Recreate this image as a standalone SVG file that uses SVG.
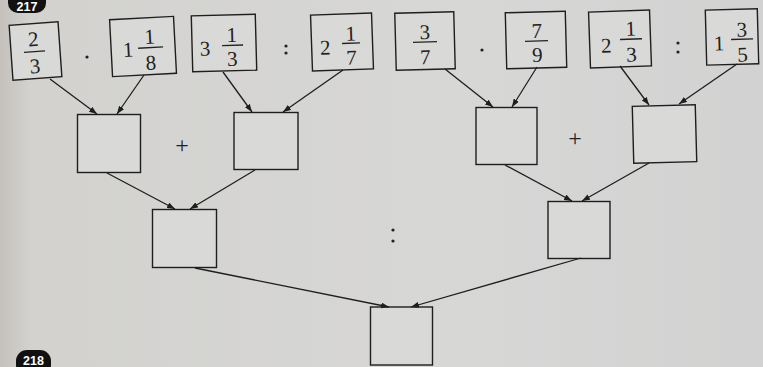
<svg xmlns="http://www.w3.org/2000/svg" width="763" height="367" viewBox="0 0 763 367">
<defs>
<linearGradient id="bg" x1="0" y1="0" x2="1" y2="0">
<stop offset="0" stop-color="#c4c1bc"/>
<stop offset="0.04" stop-color="#d3d2cf"/>
<stop offset="0.6" stop-color="#d7d7d6"/>
<stop offset="1" stop-color="#d2d2d2"/>
</linearGradient>
<marker id="ah" viewBox="0 0 8 6" refX="8" refY="3" markerWidth="8" markerHeight="6" markerUnits="userSpaceOnUse" orient="auto">
<path d="M0,0 L8,3 L0,6 z" fill="#1e1e1e"/>
</marker>
<style>
.box{fill:#d9d9d7;stroke:#1e1e1e;stroke-width:1.4}
.t{font-family:"Liberation Serif",serif;font-size:21px;fill:#222;text-anchor:middle}
.bar{stroke:#222;stroke-width:1.3}
.op{font-family:"Liberation Serif",serif;font-size:24px;fill:#222;text-anchor:middle}
.c{stroke:#1e1e1e;stroke-width:1.3;fill:none;marker-end:url(#ah)}
.badge{fill:#111}
.bt{font-family:"Liberation Sans",sans-serif;font-weight:bold;font-size:12.5px;fill:#fff;text-anchor:middle}
</style>
</defs>
<rect width="763" height="367" fill="url(#bg)"/>

<g id="badge217"><rect class="badge" x="8" y="-10" width="38" height="23" rx="10"/><text class="bt" x="27" y="11">217</text></g>
<g id="badge218"><rect class="badge" x="16" y="350" width="35" height="26" rx="11"/><text class="bt" x="33.5" y="365">218</text></g>

<g id="n1" transform="rotate(-4 35.5 51)"><rect class="box" x="11" y="23.5" width="49" height="55"/><text class="t" x="34" y="46">2</text><line class="bar" x1="24" y1="51.5" x2="45" y2="51.5"/><text class="t" x="34" y="73">3</text></g>
<g id="n2" transform="rotate(-3 143 46)"><rect class="box" x="111" y="18" width="64" height="57"/><text class="t" x="128" y="56">1</text><text class="t" x="150" y="44">1</text><line class="bar" x1="138" y1="48" x2="163" y2="48"/><text class="t" x="150" y="70">8</text></g>
<g id="n3" transform="rotate(-1.5 224 43)"><rect class="box" x="192" y="15" width="64" height="56"/><text class="t" x="205" y="55">3</text><text class="t" x="232" y="42">1</text><line class="bar" x1="222" y1="45.5" x2="243" y2="45.5"/><text class="t" x="232" y="66">3</text></g>
<g id="n4" transform="rotate(-2 342 42)"><rect class="box" x="311.5" y="14" width="61" height="56"/><text class="t" x="325" y="54">2</text><text class="t" x="351" y="41">1</text><line class="bar" x1="342" y1="43.5" x2="360" y2="43.5"/><text class="t" x="351" y="65">7</text></g>
<g id="n5" transform="rotate(-1.5 425 41)"><rect class="box" x="395.5" y="12.5" width="59" height="57"/><text class="t" x="425" y="39">3</text><line class="bar" x1="413" y1="42" x2="437" y2="42"/><text class="t" x="425" y="64">7</text></g>
<g id="n6" transform="rotate(-1.5 536 40)"><rect class="box" x="506" y="12" width="60" height="56"/><text class="t" x="537" y="38">7</text><line class="bar" x1="525" y1="41" x2="548" y2="41"/><text class="t" x="537" y="62">9</text></g>
<g id="n7" transform="rotate(-2 620 39)"><rect class="box" x="589.5" y="11" width="61" height="56"/><text class="t" x="606" y="52">2</text><text class="t" x="631" y="36">1</text><line class="bar" x1="620" y1="39.5" x2="642" y2="39.5"/><text class="t" x="631" y="62">3</text></g>
<g id="n8" transform="rotate(-1.5 731 37)"><rect class="box" x="706" y="9.5" width="52" height="55"/><text class="t" x="719" y="50">1</text><text class="t" x="742" y="37">3</text><line class="bar" x1="731" y1="39.5" x2="753" y2="39.5"/><text class="t" x="742" y="62">5</text></g>

<g id="ops">
<circle cx="87" cy="57" r="1.6" fill="#222"/>
<circle cx="286" cy="46" r="1.6" fill="#222"/><circle cx="286" cy="53" r="1.6" fill="#222"/>
<circle cx="482" cy="50" r="1.6" fill="#222"/>
<circle cx="678" cy="43" r="1.6" fill="#222"/><circle cx="678" cy="52" r="1.6" fill="#222"/>
<text class="op" x="182" y="153">+</text>
<text class="op" x="575" y="146">+</text>
<circle cx="393" cy="230" r="1.6" fill="#222"/><circle cx="393" cy="241" r="1.6" fill="#222"/>
</g>

<g id="nA"><rect class="box" x="77.5" y="114.5" width="63" height="58"/></g>
<g id="nB"><rect class="box" x="234" y="112.5" width="64" height="57"/></g>
<g id="nC"><rect class="box" x="476" y="107.5" width="61" height="57"/></g>
<g id="nD" transform="rotate(-1.5 665 134)"><rect class="box" x="633" y="105.5" width="63" height="57"/></g>
<g id="nE"><rect class="box" x="152.5" y="209.5" width="64" height="58"/></g>
<g id="nF"><rect class="box" x="548" y="201.5" width="62" height="57"/></g>
<g id="nG"><rect class="box" x="370.5" y="307" width="62" height="58"/></g>

<g id="connectors">
<line class="c" x1="50" y1="79" x2="97" y2="114"/>
<line class="c" x1="144" y1="75" x2="117" y2="114"/>
<line class="c" x1="223" y1="72" x2="252" y2="112"/>
<line class="c" x1="343" y1="70" x2="283" y2="112"/>
<line class="c" x1="445" y1="69" x2="493" y2="107"/>
<line class="c" x1="537" y1="67" x2="512" y2="107"/>
<line class="c" x1="620" y1="66" x2="649" y2="105"/>
<line class="c" x1="737" y1="64" x2="679" y2="104"/>
<line class="c" x1="107" y1="173" x2="175" y2="209"/>
<line class="c" x1="255" y1="170" x2="190" y2="209"/>
<line class="c" x1="505" y1="165" x2="572" y2="201"/>
<line class="c" x1="649" y1="163" x2="582" y2="201"/>
<line class="c" x1="195" y1="268" x2="389" y2="307"/>
<line class="c" x1="581" y1="258" x2="411" y2="307"/>
</g>
</svg>
